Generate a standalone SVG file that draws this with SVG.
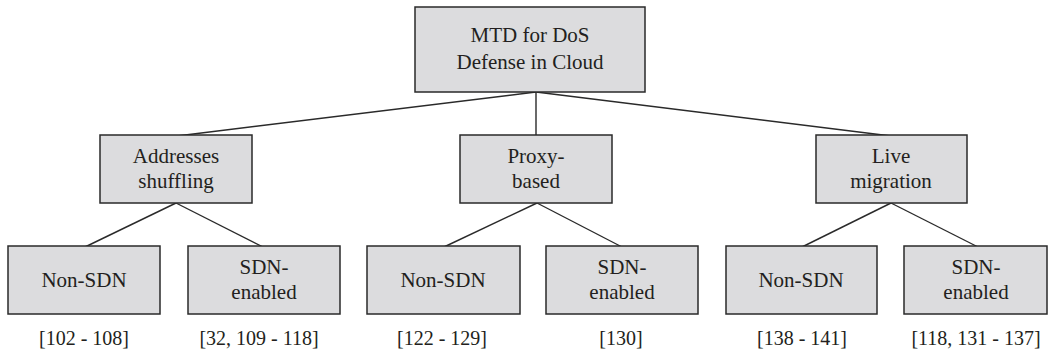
<svg xmlns="http://www.w3.org/2000/svg" width="1050" height="357" viewBox="0 0 1050 357">
  <style>
    .box { fill: #dcdcde; stroke: #2a2a2a; stroke-width: 1.5; }
    text { font-family: 'Liberation Serif', 'DejaVu Serif', serif; fill: #231f20; text-anchor: middle; }
    .lbl { font-size: 21px; }
    .ref { font-size: 20px; }
    .edge { stroke: #2a2a2a; stroke-width: 1.4; fill: none; }
  </style>
  <rect width="1050" height="357" fill="#ffffff"/>

  <!-- tree connectors -->
  <g id="connectors">
    <line class="edge" x1="536" y1="92" x2="177" y2="136"/>
    <line class="edge" x1="536" y1="92" x2="536" y2="136"/>
    <line class="edge" x1="536" y1="92" x2="891" y2="136"/>
    <line class="edge" x1="176" y1="203" x2="85" y2="247"/>
    <line class="edge" x1="176" y1="203" x2="263" y2="247"/>
    <line class="edge" x1="537" y1="203" x2="444" y2="247"/>
    <line class="edge" x1="537" y1="203" x2="622" y2="247"/>
    <line class="edge" x1="891" y1="203" x2="802" y2="247"/>
    <line class="edge" x1="891" y1="203" x2="978" y2="247"/>
  </g>

  <!-- root -->
  <g id="root">
    <rect class="box" x="415" y="7" width="230" height="85"/>
    <text class="lbl" x="530" y="42">MTD for DoS</text>
    <text class="lbl" x="530" y="69">Defense in Cloud</text>
  </g>

  <!-- second level -->
  <g id="addresses-shuffling">
    <rect class="box" x="100" y="135" width="152" height="68"/>
    <text class="lbl" x="176" y="163">Addresses</text>
    <text class="lbl" x="176" y="188">shuffling</text>
  </g>
  <g id="proxy-based">
    <rect class="box" x="460" y="135" width="152" height="68"/>
    <text class="lbl" x="536" y="163">Proxy-</text>
    <text class="lbl" x="536" y="188">based</text>
  </g>
  <g id="live-migration">
    <rect class="box" x="816" y="135" width="151" height="68"/>
    <text class="lbl" x="891" y="163">Live</text>
    <text class="lbl" x="891" y="188">migration</text>
  </g>

  <!-- leaves -->
  <g id="shuffling-non-sdn">
    <rect class="box" x="8" y="246" width="152" height="68"/>
    <text class="lbl" x="84" y="287">Non-SDN</text>
    <text class="ref" x="84" y="345">[102 - 108]</text>
  </g>
  <g id="shuffling-sdn">
    <rect class="box" x="188" y="246" width="152" height="68"/>
    <text class="lbl" x="264" y="274">SDN-</text>
    <text class="lbl" x="264" y="299">enabled</text>
    <text class="ref" x="259" y="345">[32, 109 - 118]</text>
  </g>
  <g id="proxy-non-sdn">
    <rect class="box" x="367" y="246" width="153" height="68"/>
    <text class="lbl" x="443" y="287">Non-SDN</text>
    <text class="ref" x="442" y="345">[122 - 129]</text>
  </g>
  <g id="proxy-sdn">
    <rect class="box" x="546" y="246" width="152" height="68"/>
    <text class="lbl" x="622" y="274">SDN-</text>
    <text class="lbl" x="622" y="299">enabled</text>
    <text class="ref" x="621" y="345">[130]</text>
  </g>
  <g id="migration-non-sdn">
    <rect class="box" x="726" y="246" width="151" height="68"/>
    <text class="lbl" x="801" y="287">Non-SDN</text>
    <text class="ref" x="802" y="345">[138 - 141]</text>
  </g>
  <g id="migration-sdn">
    <rect class="box" x="904" y="246" width="143" height="68"/>
    <text class="lbl" x="976" y="274">SDN-</text>
    <text class="lbl" x="976" y="299">enabled</text>
    <text class="ref" x="976" y="345">[118, 131 - 137]</text>
  </g>
</svg>
